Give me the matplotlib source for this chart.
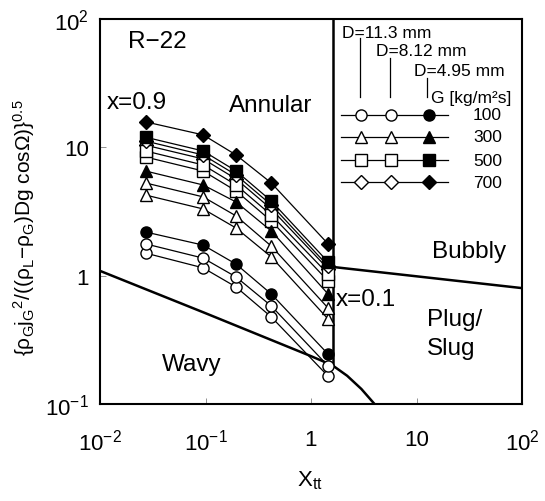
import matplotlib
matplotlib.use("Agg")
import matplotlib.pyplot as plt

plt.rcParams["font.family"] = ["Liberation Sans", "DejaVu Sans"]
plt.rcParams["mathtext.default"] = "regular"

# Lockhart-Martinelli parameter at the measured points
x_tt = [0.027, 0.095, 0.195, 0.42, 1.45]

G_flux = [100, 300, 500, 700]
markers = ["o", "^", "s", "D"]
marker_sizes = [8, 8.5, 8, 7]

# dimensionless gas velocity, rows ordered by G = 100, 300, 500, 700
y_d113 = [
    [1.50, 1.15, 0.816, 0.477, 0.165],
    [4.25, 3.31, 2.35, 1.40, 0.460],
    [8.41, 6.54, 4.57, 2.67, 0.909],
    [10.4, 8.12, 5.67, 3.31, 1.13],
]
y_d812 = [
    [1.77, 1.37, 0.977, 0.581, 0.198],
    [5.28, 4.11, 2.92, 1.70, 0.560],
    [9.37, 7.29, 5.09, 2.97, 1.03],
    [11.2, 8.72, 6.09, 3.56, 1.19],
]
y_d495 = [
    [2.19, 1.73, 1.23, 0.720, 0.245],
    [6.54, 5.09, 3.75, 2.23, 0.720],
    [12.0, 9.37, 6.54, 3.82, 1.28],
    [15.8, 12.5, 8.72, 5.28, 1.77],
]

# flow pattern boundaries
wavy_x = [0.01, 0.1, 1.0, 1.6, 2.2, 3.0, 4.0]
wavy_y = [1.09, 0.51, 0.236, 0.20, 0.166, 0.131, 0.10]
bubbly_x = [1.6, 100]
bubbly_y = [1.17, 0.80]
annular_x = [1.6, 1.6]
annular_y = [0.20, 100]

fig = plt.figure(figsize=(5.45, 5.02), dpi=100)
ax = fig.add_axes([100 / 545, 97 / 502, 422 / 545, 385 / 502])
ax.set_xscale("log")
ax.set_yscale("log")
ax.set_xlim(1e-2, 1e2)
ax.set_ylim(1e-1, 1e2)

for series, filled in [(y_d113, False), (y_d812, False), (y_d495, True)]:
    for ys, m, ms in zip(series, markers, marker_sizes):
        ax.plot(x_tt, ys, color="black", lw=0.9, marker=m, ms=ms,
                mfc="black" if filled else "white", mec="black", mew=1.0,
                zorder=3 if filled else 2)

ax.plot(wavy_x, wavy_y, color="black", lw=1.8, zorder=1)
ax.plot(bubbly_x, bubbly_y, color="black", lw=1.8, zorder=1)
ax.plot(annular_x, annular_y, color="black", lw=1.8, zorder=1)

for s in ax.spines.values():
    s.set_linewidth(1.5)

ax.set_xticks([1e-2, 1e-1, 1, 10, 1e2])
ax.set_xticklabels(["$10^{-2}$", "$10^{-1}$", "1", "10", "$10^{2}$"])
ax.set_yticks([1e-1, 1, 10, 1e2])
ax.set_yticklabels(["$10^{-1}$", "1", "10", "$10^{2}$"])
ax.minorticks_off()
ax.tick_params(direction="in", length=4, width=0.6, color="gray", labelsize=16)
ax.tick_params(axis="x", pad=18)
ax.tick_params(axis="y", pad=8)

ax.set_xlabel("X$_{tt}$", fontsize=16)
ax.xaxis.set_label_coords(0.498, -0.168)
ax.set_ylabel("{ρ$_G$j$_G{}^2$/((ρ$_L$−ρ$_G$)Dg cosΩ)}$^{0.5}$", fontsize=15)
ax.yaxis.set_label_coords(-0.15, 0.46)


def pos(px, py):
    # image pixel -> axes fraction
    return ((px - 100) / 422, (405 - py) / 385)


def label(px, py, s, size=17.5, ha="left"):
    ax.text(*pos(px, py), s, transform=ax.transAxes, fontsize=size,
            ha=ha, va="center")


label(128, 42, "R−22")
label(107, 103, "x=0.9")
label(229, 106, "Annular")
label(336, 300, "x=0.1")
label(432, 252, "Bubbly")
label(427, 320, "Plug/")
label(427, 349, "Slug")
label(162, 365, "Wavy")

# hand-made legend
lx = [361, 391, 429]
row_y = [116, 138, 161, 183]
for m, ms, ry, g in zip(markers, marker_sizes, row_y, G_flux):
    ax.plot(*zip(pos(341, ry), pos(448, ry)), transform=ax.transAxes,
            color="black", lw=0.9)
    for i, cx in enumerate(lx):
        ax.plot(*pos(cx, ry), transform=ax.transAxes, marker=m, ms=ms,
                mfc="black" if i == 2 else "white", mec="black", mew=1.0)
    label(473, ry, str(g), size=12.5)

label(342, 33, "D=11.3 mm", size=12.5)
label(376, 52, "D=8.12 mm", size=12.5)
label(414, 72, "D=4.95 mm", size=12.5)
label(431, 98, "G [kg/m²s]", size=12.5)
for hx, top in [(360, 39), (390, 59), (427, 79)]:
    ax.plot(*zip(pos(hx, top), pos(hx, 98)), transform=ax.transAxes,
            color="black", lw=0.9)

fig.savefig("out.png", dpi=100)
